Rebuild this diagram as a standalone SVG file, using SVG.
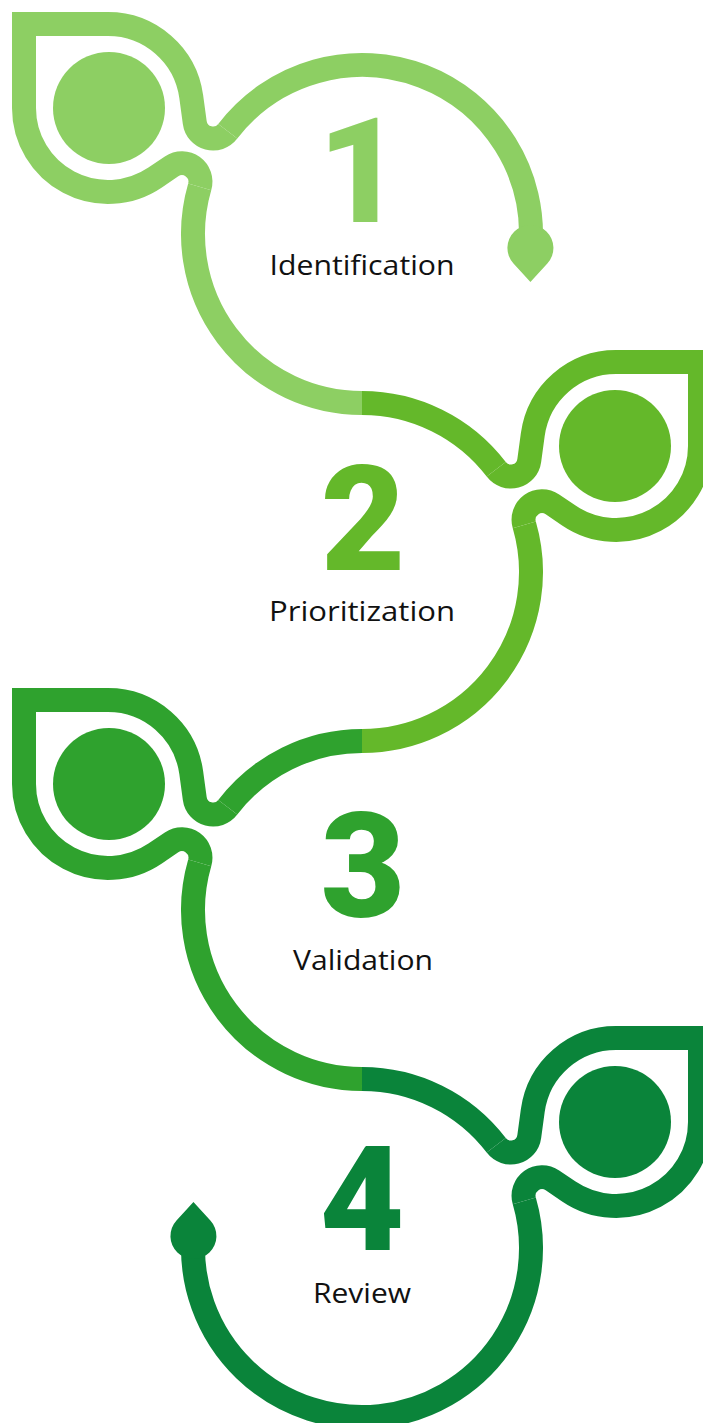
<svg xmlns="http://www.w3.org/2000/svg" width="703" height="1423" viewBox="0 0 703 1423">
<style>
.s{fill:none;stroke-width:24;stroke-linejoin:miter;stroke-linecap:butt}
.c1{stroke:#8dcf63}.c2{stroke:#64b82a}.c3{stroke:#2fa22e}.c4{stroke:#0a843a}
.f1{fill:#8dcf63}.f2{fill:#64b82a}.f3{fill:#2fa22e}.f4{fill:#0a843a}
.num{font-family:Roboto,"Liberation Sans",sans-serif;font-weight:900;font-size:146px;text-anchor:middle}
.lbl{font-family:"Open Sans","Noto Sans",sans-serif;font-size:27px;fill:#111111;text-anchor:middle}
</style>
<defs>
<path id="leaf" d="M 227.78 131.31 A 18.5 18.5 0 0 1 194.76 122.56 L 191.23 96.67 A 84 84 0 0 0 108 24 H 24 V 108 A 84 84 0 0 0 155.15 177.52 L 171.56 166.40 A 18.5 18.5 0 0 1 199.71 186.87"/>
<path id="up" d="M 362 65 A 169 169 0 0 0 227.78 131.31"/>
<path id="down" d="M 199.71 186.87 A 169 169 0 0 0 362 403"/>
<path id="drop" d="M 0 34 L -16.94 15.56 A 23 23 0 1 1 16.94 15.56 Z"/>
</defs>
<rect width="703" height="1423" fill="#ffffff"/>
<g id="connectors">
<path class="s c1" d="M 530.42 248 A 169 169 0 0 0 227.78 131.31"/>
<use href="#down" class="s c1"/>
<g transform="translate(724,338) scale(-1,1)">
<use href="#up" class="s c2"/>
<use href="#down" class="s c2"/>
</g>
<g transform="translate(0,676)">
<use href="#up" class="s c3"/>
<use href="#down" class="s c3"/>
</g>
<g transform="translate(724,1014) scale(-1,1)">
<use href="#up" class="s c4"/>
<path class="s c4" d="M 199.71 186.87 A 169 169 0 1 0 530.57 222"/>
</g>
<use href="#drop" class="f1" transform="translate(530.42,248)"/>
<use href="#drop" class="f4" transform="translate(193.43,1236) rotate(180)"/>
</g>
<g id="node1">
<use href="#leaf" class="s c1"/>
<circle cx="109" cy="108" r="56" class="f1"/>
<text class="num f1" x="360" y="222">1</text>
<text class="lbl" x="362" y="275" textLength="185" lengthAdjust="spacingAndGlyphs">Identification</text>
</g>
<g id="node2">
<g transform="translate(724,338) scale(-1,1)">
<use href="#leaf" class="s c2"/>
<circle cx="109" cy="108" r="56" class="f2"/>
</g>
<text class="num f2" x="363" y="570">2</text>
<text class="lbl" x="362" y="621" textLength="186" lengthAdjust="spacingAndGlyphs">Prioritization</text>
</g>
<g id="node3">
<g transform="translate(0,676)">
<use href="#leaf" class="s c3"/>
<circle cx="109" cy="108" r="56" class="f3"/>
</g>
<text class="num f3" x="363" y="917">3</text>
<text class="lbl" x="363" y="970" textLength="140" lengthAdjust="spacingAndGlyphs">Validation</text>
</g>
<g id="node4">
<g transform="translate(724,1014) scale(-1,1)">
<use href="#leaf" class="s c4"/>
<circle cx="109" cy="108" r="56" class="f4"/>
</g>
<text class="num f4" x="362" y="1250">4</text>
<text class="lbl" x="362" y="1303" textLength="98" lengthAdjust="spacingAndGlyphs">Review</text>
</g>
</svg>
